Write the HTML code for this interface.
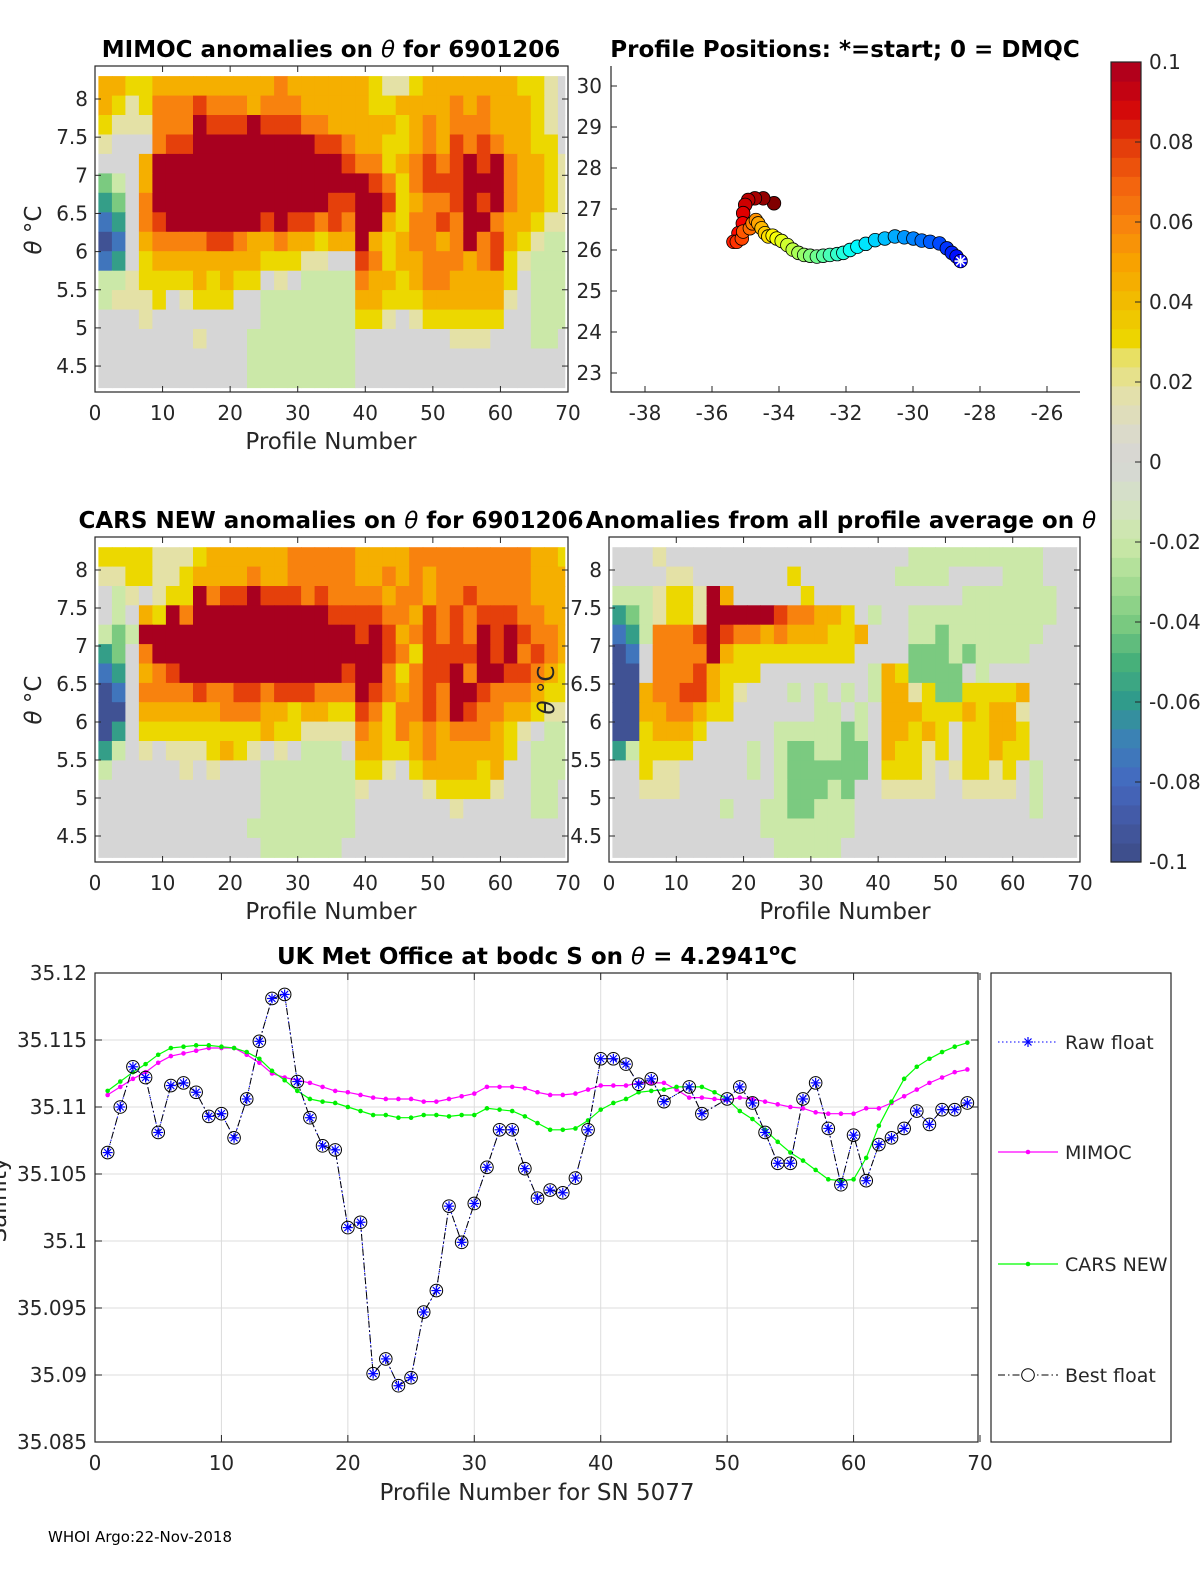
<!DOCTYPE html>
<html><head><meta charset="utf-8"><title>Argo float 6901206 anomaly plots</title>
<style>
html,body{margin:0;padding:0;background:#fff;}
svg{display:block;font-family:"DejaVu Sans","Liberation Sans",sans-serif;}
.tk{font-size:20px;fill:#262626;}
.lg{font-size:19px;fill:#262626;}
.ttl{font-size:23px;font-weight:bold;fill:#000;}
.lbl{font-size:23px;fill:#262626;}
</style></head>
<body>
<svg id="fig" xmlns="http://www.w3.org/2000/svg" width="1200" height="1575" viewBox="0 0 1200 1575">
<rect x="0" y="0" width="1200" height="1575" fill="#fff"/>
<g id="layer"></g>
<text class="ttl" x="331" y="57" text-anchor="middle">MIMOC anomalies on <tspan font-style="italic" font-weight="normal">θ</tspan>  for 6901206</text>
<text class="ttl" x="845" y="57" text-anchor="middle">Profile Positions: *=start; 0 = DMQC</text>
<text class="ttl" x="331" y="528" text-anchor="middle">CARS NEW anomalies on <tspan font-style="italic" font-weight="normal">θ</tspan> for 6901206</text>
<text class="ttl" x="841" y="528" text-anchor="middle">Anomalies from all profile average on <tspan font-style="italic" font-weight="normal">θ</tspan></text>
<text class="ttl" x="537" y="964" text-anchor="middle">UK Met Office at bodc S on <tspan font-style="italic" font-weight="normal">θ</tspan> = 4.2941<tspan dy="-9" font-size="16">o</tspan><tspan dy="9">C</tspan></text>
<text class="lbl" x="331" y="449" text-anchor="middle">Profile Number</text>
<text class="lbl" x="331" y="919" text-anchor="middle">Profile Number</text>
<text class="lbl" x="845" y="919" text-anchor="middle">Profile Number</text>
<text class="lbl" x="537" y="1500" text-anchor="middle">Profile Number for SN 5077</text>
<text class="lbl" transform="translate(41,230) rotate(-90)" text-anchor="middle"><tspan font-style="italic">θ</tspan> °C</text>
<text class="lbl" transform="translate(41,700) rotate(-90)" text-anchor="middle"><tspan font-style="italic">θ</tspan> °C</text>
<text class="lbl" transform="translate(554,690) rotate(-90)" text-anchor="middle"><tspan font-style="italic">θ</tspan> °C</text>
<text class="lbl" transform="translate(6,1200) rotate(-90)" text-anchor="middle">Salinity</text>
<text x="48" y="1542" font-size="15" fill="#000">WHOI Argo:22-Nov-2018</text>
</svg>
<script>
// ---------- heatmap data (rows top->bottom, theta 8.3 -> 4.22; 35 columns, 2 profiles each) ----------
const levelChars = ['B','b','t','g','l','w','p','y','a','o','r','R'];
const levelValues = [-0.095,-0.075,-0.058,-0.04,-0.02,0,0.018,0.03,0.045,0.06,0.078,0.1];
const mimocRows = [
"aayya aaaaa aaaoa aaaaa yppya aaaaa ayypw",
"aypyo ooroo oaooo aaaaa yyaaa aoaoa aaypw",
"ypppo ooRrr rRrrr ooaaa aayao aoooa aaypw",
"pwwwo rrRRR RRRRR Rrroa ayyao aroro aayyw",
"wwwaR RRRRR RRRRR RRRro oyaor orRrR oaayp",
"glwaR RRRRR RRRRR RRRRR royor rrRRR oaayp",
"tgwoR RRRRR RRRRR RRrrR Rryao orRrR oaayp",
"btwor RRRRR RRrRr roroR Rayoo roRRo aaypp",
"Bbwao ooorr oaaoa ayaaR ayaoo aoRor aypll",
"btwya aaaaa aayyy ppwwr oyaao ooaor yplll",
"llpyy yyaya yywpw llllo aayao oaaaa ywlll",
"lpppy wpyyy wwlll lllla ayyya aaaaa pwlll",
"wwwpw wwwww wwlll lllly ypwpy yyyyy wwlll",
"wwwww wwpww wllll llllw wwwww wpppw wwllw",
"wwwww wwwww wllll llllw wwwww wwwww wwwww",
"wwwww wwwww wllll llllw wwwww wwwww wwwww"
];
const carsRows = [
"yyyyp ppyaa aaaao ooooa aaaoo ooooo ooaay",
"ppyyp pyaaa aoaao ooooa aoaoa ooooo ooaaa",
"wlpwp yyRor rRrrr orooo oaooa ooroo ooaaa",
"wlway RoRRR RRRRR RRrrr rooar ororr rooaa",
"lglRR RRRRR RRRRR RRRRr Rraor oroRr Rrooa",
"tgwoR RRRRR RRRRR RRRRR Rroyr rrrRr Roroa",
"btwao rRRRR RRRRR RRRrR Royor rRoRR rroay",
"Bbwoo ooroo rrorr roooR roaor oRRro ooayy",
"BBwaa aaaao ooaay aayyr oyoor oRroo aaypp",
"Btwyy yyyyy yyayy ppppo ayoao aoooa ypwll",
"tlwpw pppya ypwpw lllwa ayyao aaaaa ywlll",
"lwwww wpwpw wwlll lllly ypwya aaaya wwlll",
"wwwww wwwww wwlll llllp wwwwp yyyyp wwllw",
"wwwww wwwww wwlll llllw wwwww wpwww wwllw",
"wwwww wwwww wllll llllw wwwww wwwww wwwww",
"wwwww wwwww wwlll lllww wwwww wwwww wwwww"
];
const avgRows = [
"wwwpw wwwww wwwww wwwww wwlll lllll llwww",
"wwwwp pwwww wwwyw wwwww wllll wwwwl llwww",
"lllpy ypRaw wwwwy wwwww wwwww wllll lllww",
"tglpy ypRRR RRroo aaywl wwlll lllll lllww",
"btloo orRro oaoaa ayyaw wwllg lllll llwww",
"Bbwoo ooRay yyyyy yyyww wwggg lglll lwwww",
"BBwoo orayy ywwww wwwwl ayggg gwlww wwwww",
"BBaoo rrayp wwwlw lwlwl aapyg gyyyy awwww",
"BBaao oayyw wwwww llwlw aaayy yayaa pwwww",
"BByaa aywww wwlll llglw aayay wyyaa ywwww",
"tlyyy ywwww lwlgg llggw ayypy wyyay ywwww",
"wwypp wwwww lwlgg ggggw yyypw pyypy wlwww",
"wwppp wwwww wwlgg glgww ppppw wpppp wlwww",
"wwwww wwwlw wllgg lllww wwwww wwwww wlwww",
"wwwww wwwww wllll lllww wwwww wwwww wwwww",
"wwwww wwwww wwlll llwww wwwww wwwww wwwww"
];
// ---------- position data ----------
const trackLon = [-28.58,-28.70,-28.84,-28.99,-29.21,-29.49,-29.74,-29.99,-30.26,-30.54,-30.84,-31.13,-31.41,-31.66,-31.88,-32.08,-32.26,-32.48,-32.68,-32.87,-33.07,-33.25,-33.42,-33.59,-33.75,-33.92,-34.07,-34.19,-34.32,-34.42,-34.52,-34.62,-34.69,-34.79,-34.87,-35.07,-35.11,-35.26,-35.36,-35.21,-35.08,-35.07,-35.01,-34.92,-34.72,-34.47,-34.15];
const trackLat = [25.73,25.84,25.93,26.04,26.16,26.20,26.23,26.28,26.31,26.33,26.28,26.24,26.15,26.08,26.00,25.93,25.90,25.88,25.86,25.84,25.86,25.88,25.93,26.01,26.12,26.22,26.28,26.35,26.33,26.41,26.53,26.65,26.73,26.65,26.53,26.45,26.28,26.20,26.20,26.41,26.65,26.90,27.10,27.22,27.26,27.26,27.14];
const lonTicks = [-38,-36,-34,-32,-30,-28,-26];
const latTicks = [23,24,25,26,27,28,29,30];
// ---------- salinity series (profiles 1..69) ----------
const profiles = Array.from({length:69},(_,i)=>i+1);
const bestFloat = [35.1066,35.1100,35.1130,35.1122,35.1081,35.1116,35.1118,35.1111,35.1093,35.1095,
35.1077,35.1106,35.1149,35.1181,35.1184,35.1119,35.1092,35.1071,35.1068,35.1010,
35.1014,35.0901,35.0912,35.0892,35.0898,35.0947,35.0963,35.1026,35.0999,35.1028,
35.1055,35.1083,35.1083,35.1054,35.1032,35.1038,35.1036,35.1047,35.1083,35.1136,
35.1136,35.1132,35.1117,35.1121,35.1104,null,35.1115,35.1095,null,35.1106,
35.1115,35.1103,35.1081,35.1058,35.1058,35.1106,35.1118,35.1084,35.1042,35.1079,
35.1045,35.1072,35.1077,35.1084,35.1097,35.1087,35.1098,35.1098,35.1103];
const mimocS = [35.1109,35.1115,35.1121,35.1126,35.1133,35.1138,35.1140,35.1142,35.1144,35.1144,
35.1144,35.1139,35.1133,35.1125,35.1122,35.1120,35.1118,35.1115,35.1112,35.1111,
35.1109,35.1107,35.1106,35.1106,35.1106,35.1104,35.1104,35.1106,35.1108,35.1110,
35.1115,35.1115,35.1115,35.1114,35.1111,35.1109,35.1109,35.1110,35.1113,35.1116,
35.1116,35.1116,35.1118,35.1118,35.1118,35.1113,35.1107,35.1107,35.1106,35.1105,
35.1107,35.1106,35.1104,35.1102,35.1100,35.1099,35.1096,35.1095,35.1095,35.1095,
35.1099,35.1099,35.1103,35.1108,35.1113,35.1118,35.1122,35.1126,35.1128];
const carsS = [35.1112,35.1119,35.1126,35.1132,35.1139,35.1144,35.1145,35.1146,35.1146,35.1145,
35.1144,35.1141,35.1136,35.1127,35.1120,35.1112,35.1106,35.1104,35.1103,35.1100,
35.1097,35.1094,35.1094,35.1092,35.1092,35.1094,35.1094,35.1093,35.1094,35.1094,
35.1099,35.1098,35.1097,35.1093,35.1088,35.1083,35.1083,35.1084,35.1090,35.1098,
35.1103,35.1106,35.1111,35.1112,35.1113,35.1115,35.1115,35.1115,35.1111,35.1106,
35.1097,35.1091,35.1083,35.1074,35.1066,35.1060,35.1053,35.1046,35.1045,35.1046,
35.1062,35.1086,35.1104,35.1121,35.1130,35.1136,35.1141,35.1145,35.1148];
const salTicks = [35.085,35.09,35.095,35.1,35.105,35.11,35.115,35.12];
const salTickLabels = ['35.085','35.09','35.095','35.1','35.105','35.11','35.115','35.12'];
const profTicks = [0,10,20,30,40,50,60,70];
const thetaTicks = [4.5,5,5.5,6,6.5,7,7.5,8];
const cbarTicks = [-0.1,-0.08,-0.06,-0.04,-0.02,0,0.02,0.04,0.06,0.08,0.1];
const cbarLabels = ['-0.1','-0.08','-0.06','-0.04','-0.02','0','0.02','0.04','0.06','0.08','0.1'];

const NS='http://www.w3.org/2000/svg';
const layer=document.getElementById('layer');
function mk(tag,attrs,parent){const e=document.createElementNS(NS,tag);for(const k in attrs)e.setAttribute(k,attrs[k]);(parent||layer).appendChild(e);return e;}
function hex(c){return [parseInt(c.slice(1,3),16),parseInt(c.slice(3,5),16),parseInt(c.slice(5,7),16)];}
const cmStops=[[-0.1,'#3d4c86'],[-0.09,'#4358a2'],[-0.08,'#4469c0'],[-0.07,'#3c80b8'],[-0.06,'#2f9a8c'],[-0.05,'#47b07a'],[-0.04,'#7bca80'],[-0.03,'#a6dc93'],[-0.02,'#cbe8a8'],[-0.01,'#d5e2c4'],[0,'#d6d6d6'],[0.008,'#dcdac8'],[0.018,'#e4e1a6'],[0.026,'#e8e068'],[0.03,'#ecd800'],[0.04,'#f2bc00'],[0.05,'#f8a200'],[0.06,'#f8820e'],[0.07,'#f2620e'],[0.08,'#e2380a'],[0.088,'#d40a0a'],[0.095,'#bc0016'],[0.1,'#a8001f']];
function cmap(v){v=Math.max(-0.1,Math.min(0.1,v));for(let i=0;i<cmStops.length-1;i++){const a=cmStops[i],b=cmStops[i+1];if(v<=b[0]){const t=(v-a[0])/(b[0]-a[0]);const ca=hex(a[1]),cb=hex(b[1]);return 'rgb('+ca.map((x,j)=>Math.round(x+(cb[j]-x)*t)).join(',')+')';}}return cmStops[cmStops.length-1][1];}
function charVal(ch){const i=levelChars.indexOf(ch);return i<0?null:levelValues[i];}
function normRow(s){let r=s.replace(/\s+/g,'');while(r.length<35)r+=r[r.length-1];return r.slice(0,35);}

function axesBox(x0,y0,x1,y1,name){
  const r=mk('rect',{x:x0,y:y0,width:x1-x0,height:y1-y0,fill:'none',stroke:'#262626','stroke-width':1.2});
  
  
}
function tickLabel(x,y,txt,anchor,name,cls){
  const t=mk('text',{x:x,y:y,'text-anchor':anchor,class:cls||'tk'});t.textContent=txt;
  
  
}

function heatPanel(rows,ax,name){
  const g=mk('g',{});
  
  
  const px=p=>ax.x0+(p/70)*(ax.x1-ax.x0);
  const py=th=>ax.y8+(8-th)*ax.k;
  const thTop=8.3,thBot=4.22,nr=rows.length,rh=(thTop-thBot)/nr;
  rows.forEach((raw,ri)=>{
    const row=normRow(raw);
    for(let c=0;c<35;c++){
      const v=charVal(row[c]); if(v===null) continue;
      const pa=2*c+0.5, pb=Math.min(2*c+2.5,69.5);
      const xa=px(pa),xb=px(pb),ya=py(thTop-ri*rh),yb=py(thTop-(ri+1)*rh);
      const cell=mk('rect',{x:xa.toFixed(1),y:ya.toFixed(1),width:(xb-xa+0.6).toFixed(1),height:(yb-ya+0.6).toFixed(1),fill:cmap(v)},g);
      
      
    }
  });
  axesBox(ax.x0,ax.top,ax.x1,ax.bot,name+'-axes');
  profTicks.forEach(p=>{const x=px(p);mk('line',{x1:x,y1:ax.bot,x2:x,y2:ax.bot-6,stroke:'#262626'});mk('line',{x1:x,y1:ax.top,x2:x,y2:ax.top+6,stroke:'#262626'});
    tickLabel(x,ax.bot+28,String(p),'middle',name+'-x-tick');});
  thetaTicks.forEach(t=>{const y=py(t);mk('line',{x1:ax.x0,y1:y,x2:ax.x0+6,y2:y,stroke:'#262626'});mk('line',{x1:ax.x1,y1:y,x2:ax.x1-6,y2:y,stroke:'#262626'});
    tickLabel(ax.x0-7,y+7,String(t),'end',name+'-y-tick');});
}
heatPanel(mimocRows,{x0:95,x1:568,top:66,bot:392,y8:99,k:76.3},'mimoc-heatmap');
heatPanel(carsRows,{x0:95,x1:568,top:537,bot:862,y8:570,k:76},'cars-heatmap');
heatPanel(avgRows,{x0:609,x1:1080,top:537,bot:862,y8:570,k:76},'avg-anomaly-heatmap');

// ---------- map ----------
(function(){
  const x0=611,x1=1080,top=66,bot=392;
  const lx=lon=>645+(lon+38)*33.5, ly=lat=>86+(30-lat)*41;
  const ax=mk('path',{d:'M'+x0+','+top+'L'+x0+','+bot+'L'+x1+','+bot,fill:'none',stroke:'#262626','stroke-width':1.2});
  
  
  lonTicks.forEach(l=>{const x=lx(l);mk('line',{x1:x,y1:bot,x2:x,y2:bot-6,stroke:'#262626'});tickLabel(x,bot+28,String(l),'middle','map-x-tick');});
  latTicks.forEach(l=>{const y=ly(l);mk('line',{x1:x0,y1:y,x2:x0+6,y2:y,stroke:'#262626'});tickLabel(x0-9,y+7,String(l),'end','map-y-tick');});
  function jet(t){const r=Math.min(1,Math.max(0,1.5-Math.abs(4*t-3))),g=Math.min(1,Math.max(0,1.5-Math.abs(4*t-2))),b=Math.min(1,Math.max(0,1.5-Math.abs(4*t-1)));return 'rgb('+[r,g,b].map(v=>Math.round(v*255)).join(',')+')';}
  const n=trackLon.length;
  for(let i=n-1;i>=0;i--){
    const c=mk('circle',{cx:lx(trackLon[i]),cy:ly(trackLat[i]),r:6.8,fill:jet(0.12+0.88*i/(n-1)),stroke:'#000','stroke-width':0.8});
    
    
  }
  const sx=lx(trackLon[0]),sy=ly(trackLat[0]);
  const st=mk('g',{stroke:'#fff','stroke-width':1.6});
  
  
  [[6,0],[0,6],[4.3,4.3],[4.3,-4.3]].forEach(d=>mk('line',{x1:sx-d[0],y1:sy-d[1],x2:sx+d[0],y2:sy+d[1]},st));
})();

// ---------- colorbar ----------
(function(){
  const x0=1111,x1=1141,top=62,bot=862,n=42;
  const cy=v=>bot-(v+0.1)/0.2*(bot-top);
  for(let i=0;i<n;i++){const v=-0.1+(i+0.5)*0.2/n;const r=mk('rect',{x:x0,y:cy(-0.1+(i+1)*0.2/n),width:x1-x0,height:(bot-top)/n+0.6,fill:cmap(v)});
    
    }
  axesBox(x0,top,x1,bot,'colorbar');
  cbarTicks.forEach((v,i)=>{const y=cy(v);mk('line',{x1:x1-6,y1:y,x2:x1,y2:y,stroke:'#262626'});tickLabel(1149,y+7,cbarLabels[i],'start','colorbar-tick');});
})();

// ---------- salinity line chart ----------
(function(){
  const x0=95,x1=978,top=973,bot=1442;
  const sx=p=>x0+p/70*(x1-x0+2), sy=v=>bot-(v-35.085)/0.035*(bot-top);
  const grid=mk('g',{stroke:'#dcdcdc','stroke-width':1});
  
  
  profTicks.forEach(p=>{if(p>0&&p<70)mk('line',{x1:sx(p),y1:top,x2:sx(p),y2:bot},grid);});
  salTicks.forEach(v=>{if(v>35.0851&&v<35.1199)mk('line',{x1:x0,y1:sy(v),x2:x1,y2:sy(v)},grid);});
  axesBox(x0,top,x1,bot,'salinity-axes');
  profTicks.forEach(p=>{const x=sx(p);mk('line',{x1:x,y1:bot,x2:x,y2:bot-7,stroke:'#262626'});mk('line',{x1:x,y1:top,x2:x,y2:top+7,stroke:'#262626'});tickLabel(x,bot+28,String(p),'middle','salinity-x-tick');});
  salTicks.forEach((v,i)=>{const y=sy(v);mk('line',{x1:x0,y1:y,x2:x0+7,y2:y,stroke:'#262626'});mk('line',{x1:x1,y1:y,x2:x1-7,y2:y,stroke:'#262626'});tickLabel(x0-8,y+7,salTickLabels[i],'end','salinity-y-tick');});
  function path(arr){let d='',pen=false;arr.forEach((v,i)=>{if(v===null){pen=false;return;}d+=(pen?'L':'M')+sx(profiles[i]).toFixed(1)+','+sy(v).toFixed(1);pen=true;});return d;}
  function pathSkip(arr){const pts=[];arr.forEach((v,i)=>{if(v!==null)pts.push([sx(profiles[i]),sy(v)]);});return pts.map((p,i)=>(i?'L':'M')+p[0].toFixed(1)+','+p[1].toFixed(1)).join('');}
  const m=mk('path',{d:path(mimocS),fill:'none',stroke:'#ff00ff','stroke-width':1.2});
  
  
  mimocS.forEach((v,i)=>{const c=mk('circle',{cx:sx(profiles[i]),cy:sy(v),r:2.3,fill:'#ff00ff'});
    
    });
  const cl=mk('path',{d:path(carsS),fill:'none',stroke:'#00ff00','stroke-width':1.2});
  
  
  carsS.forEach((v,i)=>{const c=mk('circle',{cx:sx(profiles[i]),cy:sy(v),r:2.3,fill:'#00ee00'});
    
    });
  const rl=mk('path',{d:pathSkip(bestFloat),fill:'none',stroke:'#0000ff','stroke-width':1,'stroke-dasharray':'1.5,2.5'});
  
  
  const bl=mk('path',{d:pathSkip(bestFloat),fill:'none',stroke:'#000','stroke-width':1,'stroke-dasharray':'7,3,1.5,3'});
  
  
  bestFloat.forEach((v,i)=>{if(v===null)return;const x=sx(profiles[i]),y=sy(v);
    const c=mk('circle',{cx:x,cy:y,r:6.3,fill:'none',stroke:'#000','stroke-width':1});
    
    
    const s=mk('g',{stroke:'#0000ff','stroke-width':1.2});
    
    
    [[5,0],[0,5],[3.5,3.5],[3.5,-3.5]].forEach(d=>mk('line',{x1:x-d[0],y1:y-d[1],x2:x+d[0],y2:y+d[1]},s));
  });
  const lg=mk('g',{});
  
  
  mk('rect',{x:991,y:973,width:180,height:469,fill:'#fff',stroke:'#262626','stroke-width':1.2},lg);
  const items=[['Raw float',1042,'raw'],['MIMOC',1152,'mimoc'],['CARS NEW',1264,'cars'],['Best float',1375,'best']];
  items.forEach(it=>{const y=it[1];const e=mk('g',{},lg);
    
    
    if(it[2]==='raw'){mk('line',{x1:998,y1:y,x2:1058,y2:y,stroke:'#0000ff','stroke-dasharray':'1.5,2.5'},e);[[5,0],[0,5],[3.5,3.5],[3.5,-3.5]].forEach(d=>mk('line',{x1:1028-d[0],y1:y-d[1],x2:1028+d[0],y2:y+d[1],stroke:'#0000ff','stroke-width':1.2},e));}
    if(it[2]==='mimoc'){mk('line',{x1:998,y1:y,x2:1058,y2:y,stroke:'#ff00ff','stroke-width':1.2},e);mk('circle',{cx:1028,cy:y,r:2.3,fill:'#ff00ff'},e);}
    if(it[2]==='cars'){mk('line',{x1:998,y1:y,x2:1058,y2:y,stroke:'#00ff00','stroke-width':1.2},e);mk('circle',{cx:1028,cy:y,r:2.3,fill:'#00ee00'},e);}
    if(it[2]==='best'){mk('line',{x1:998,y1:y,x2:1058,y2:y,stroke:'#000','stroke-dasharray':'7,3,1.5,3'},e);mk('circle',{cx:1028,cy:y,r:6.3,fill:'#fff',stroke:'#000'},e);}
    const t=mk('text',{x:1065,y:y+7,class:'lg'},e);t.textContent=it[0];
  });
})();
</script>
</body></html>
